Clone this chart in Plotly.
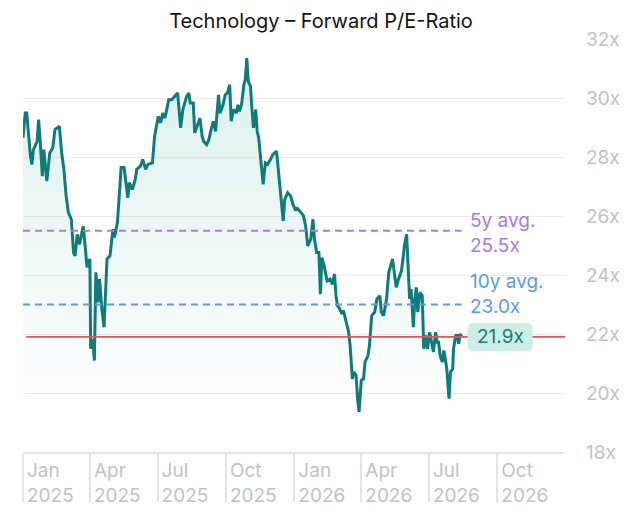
import plotly.graph_objects as go

# forward P/E of the technology sector
dates = [
    "2025-01-01", "2025-01-04", "2025-01-06", "2025-01-08", "2025-01-11", "2025-01-13", "2025-01-15",
    "2025-01-20", "2025-01-22", "2025-01-24", "2025-01-27", "2025-01-29", "2025-02-02", "2025-02-06",
    "2025-02-10", "2025-02-13", "2025-02-19", "2025-02-22", "2025-02-25", "2025-02-28", "2025-03-03",
    "2025-03-07", "2025-03-10", "2025-03-12", "2025-03-15", "2025-03-18", "2025-03-23", "2025-03-26",
    "2025-03-28", "2025-04-01", "2025-04-02", "2025-04-05", "2025-04-07", "2025-04-09", "2025-04-12",
    "2025-04-14", "2025-04-17", "2025-04-20", "2025-04-24", "2025-04-28", "2025-05-02", "2025-05-04",
    "2025-05-08", "2025-05-13", "2025-05-17", "2025-05-22", "2025-05-24", "2025-05-28", "2025-06-01",
    "2025-06-03", "2025-06-08", "2025-06-11", "2025-06-15", "2025-06-18", "2025-06-24", "2025-06-27",
    "2025-06-30", "2025-07-02", "2025-07-05", "2025-07-08", "2025-07-11", "2025-07-16", "2025-07-20",
    "2025-07-25", "2025-07-28", "2025-08-01", "2025-08-04", "2025-08-09", "2025-08-12", "2025-08-14",
    "2025-08-18", "2025-08-20", "2025-08-23", "2025-08-27", "2025-08-30", "2025-09-01", "2025-09-05",
    "2025-09-08", "2025-09-11", "2025-09-14", "2025-09-17", "2025-09-21", "2025-09-23", "2025-09-27",
    "2025-09-30", "2025-10-03", "2025-10-06", "2025-10-08", "2025-10-11", "2025-10-15", "2025-10-17",
    "2025-10-19", "2025-10-22", "2025-10-25", "2025-10-27", "2025-10-29", "2025-10-31", "2025-11-03",
    "2025-11-05", "2025-11-07", "2025-11-10", "2025-11-12", "2025-11-14", "2025-11-16", "2025-11-20",
    "2025-11-23", "2025-11-26", "2025-11-30", "2025-12-03", "2025-12-08", "2025-12-10", "2025-12-13",
    "2025-12-17", "2025-12-19", "2025-12-23", "2025-12-27", "2025-12-30", "2026-01-02", "2026-01-05",
    "2026-01-09", "2026-01-13", "2026-01-16", "2026-01-19", "2026-01-23", "2026-01-26", "2026-01-28",
    "2026-01-31", "2026-02-03", "2026-02-05", "2026-02-07", "2026-02-10", "2026-02-14", "2026-02-18",
    "2026-02-21", "2026-02-24", "2026-02-26", "2026-02-28", "2026-03-03", "2026-03-06", "2026-03-08",
    "2026-03-11", "2026-03-13", "2026-03-15", "2026-03-17", "2026-03-20", "2026-03-22", "2026-03-25",
    "2026-03-27", "2026-03-29", "2026-04-01", "2026-04-04", "2026-04-06", "2026-04-10", "2026-04-12",
    "2026-04-15", "2026-04-19", "2026-04-22", "2026-04-26", "2026-04-28", "2026-05-01", "2026-05-05",
    "2026-05-08", "2026-05-10", "2026-05-13", "2026-05-16", "2026-05-18", "2026-05-21", "2026-05-25",
    "2026-05-27", "2026-05-29", "2026-06-01", "2026-06-02", "2026-06-05", "2026-06-07", "2026-06-10",
    "2026-06-12", "2026-06-14", "2026-06-16", "2026-06-19", "2026-06-22", "2026-06-24", "2026-06-27",
    "2026-06-29", "2026-07-02", "2026-07-05", "2026-07-07", "2026-07-10", "2026-07-12", "2026-07-14",
    "2026-07-16", "2026-07-19", "2026-07-21", "2026-07-23", "2026-07-25", "2026-07-28", "2026-07-30",
    "2026-08-02", "2026-08-03", "2026-08-06", "2026-08-08", "2026-08-10", "2026-08-12", "2026-08-14",
]
pe_values = [
    28.65, 29.49, 29.49, 28.76, 28.03, 27.75, 28.25,
    28.53, 29.27, 28.59, 27.35, 28.25, 27.18, 28.14,
    28.31, 28.93, 29.04, 28.14, 27.58, 26.68, 26.12,
    25.89, 24.76, 24.65, 25.38, 25.04, 25.66, 24.88,
    24.26, 24.54, 21.50, 21.83, 21.10, 24.09, 23.07,
    23.86, 22.85, 22.23, 24.54, 24.65, 25.55, 25.27,
    25.78, 27.64, 27.64, 26.62, 27.13, 26.90, 27.24,
    27.58, 27.69, 27.92, 27.58, 27.75, 27.80, 28.70,
    29.04, 29.38, 29.16, 29.49, 29.32, 29.94, 29.94,
    30.11, 30.17, 28.99, 29.61, 30.05, 30.17, 29.83,
    29.83, 28.82, 29.04, 29.32, 28.70, 28.53, 28.42,
    28.59, 28.93, 29.21, 28.87, 30.11, 29.49, 29.77,
    30.11, 30.17, 30.45, 29.21, 29.61, 29.49, 29.77,
    29.55, 29.77, 30.45, 30.62, 31.35, 30.56, 30.39,
    29.61, 28.99, 29.61, 28.87, 28.65, 28.14, 27.07,
    27.80, 27.75, 27.92, 28.08, 28.20, 27.69, 26.68,
    25.83, 26.56, 26.79, 26.68, 26.40, 26.23, 26.26,
    26.14, 26.02, 25.69, 24.99, 25.21, 25.89, 25.21,
    24.76, 24.76, 23.35, 24.59, 24.31, 23.80, 23.86,
    23.69, 24.03, 23.30, 22.96, 22.85, 22.68, 22.79,
    22.51, 22.23, 22.06, 21.61, 20.48, 20.71, 20.60,
    19.81, 19.36, 20.43, 20.48, 21.05, 21.27, 21.61,
    22.62, 22.74, 23.19, 23.30, 22.74, 22.62, 23.19,
    24.09, 24.26, 24.54, 23.97, 23.58, 23.86, 24.14,
    24.54, 24.99, 25.38, 24.76, 23.19, 23.52, 22.23,
    23.19, 23.58, 22.74, 23.41, 23.30, 21.50, 21.95,
    21.50, 22.06, 21.61, 21.39, 22.06, 21.72, 21.72,
    21.27, 21.05, 21.44, 21.16, 20.82, 19.81, 20.71,
    20.82, 21.50, 21.95, 21.95, 21.67, 22.00, 21.90,
]
avg_5y = 25.5
avg_10y = 23.0
current_pe = 21.9

tick_dates = ["2025-01-01", "2025-04-01", "2025-07-01", "2025-10-01",
              "2026-01-01", "2026-04-01", "2026-07-01", "2026-10-01"]
tick_text = ["Jan<br>2025", "Apr<br>2025", "Jul<br>2025", "Oct<br>2025",
             "Jan<br>2026", "Apr<br>2026", "Jul<br>2026", "Oct<br>2026"]

TEAL = "#107c7a"
PURPLE = "#a57be6"
BLUE = "#5b9be6"
RED = "#e0575b"
GREY = "#c2c2c4"
FONT = "Inter"

fig = go.Figure()

fig.add_trace(go.Scatter(
    x=dates, y=pe_values, mode="lines",
    line=dict(color=TEAL, width=3),
    fill="tozeroy",
    fillgradient=dict(type="vertical", start=19.5, stop=31.4,
                      colorscale=[[0, "rgba(30,170,150,0)"], [1, "rgba(30,170,150,0.16)"]]),
    hoverinfo="x+y", showlegend=False,
))

# current value line, then average lines (only across the data span)
fig.add_shape(type="line", xref="paper", x0=0.006, x1=1, yref="y", y0=current_pe, y1=current_pe,
              line=dict(color=RED, width=1.8))
for val, col in [(avg_5y, PURPLE), (avg_10y, BLUE)]:
    fig.add_shape(type="line", xref="x", x0=dates[0], x1=dates[-1], yref="y", y0=val, y1=val,
                  line=dict(color=col, width=2.2, dash="7px,5px"))

# rounded badge behind the current value
fig.add_shape(type="path", xref="x", yref="y", xsizemode="pixel", ysizemode="pixel",
              xanchor=dates[-1], yanchor=current_pe,
              path="M 12,-14 H 65 Q 71,-14 71,-8 V 8 Q 71,14 65,14 H 12 Q 6,14 6,8 V -8 Q 6,-14 12,-14 Z",
              fillcolor="#cdeee5", line=dict(width=0), layer="above")

fig.add_annotation(x=dates[-1], y=avg_5y, xshift=6, yshift=-2, xanchor="left", yanchor="middle",
                   align="left", text="5y avg.<br>%.1fx" % avg_5y, showarrow=False,
                   font=dict(family=FONT, size=19, color=PURPLE))
fig.add_annotation(x=dates[-1], y=avg_10y, xshift=6, yshift=11, xanchor="left", yanchor="middle",
                   align="left", text="10y avg.<br>%.1fx" % avg_10y, showarrow=False,
                   font=dict(family=FONT, size=19, color=BLUE))
fig.add_annotation(x=dates[-1], y=current_pe, xshift=38.5, xanchor="center", yanchor="middle",
                   text="%.1fx" % current_pe, showarrow=False,
                   font=dict(family=FONT, size=19, color="#1b7a72"))

fig.update_layout(
    width=642, height=519,
    margin=dict(l=23, r=77, t=39, b=65),
    paper_bgcolor="white", plot_bgcolor="white",
    font=dict(family=FONT),
    title=dict(text="Technology – Forward P/E-Ratio", x=0.5, xref="container", xanchor="center",
               y=1 - 20.5 / 519, yanchor="middle", font=dict(family=FONT, size=20, color="#111111")),
    xaxis=dict(
        type="date", range=["2025-01-01", "2026-12-31"],
        tickvals=tick_dates, ticktext=tick_text,
        showgrid=False, zeroline=False,
        showline=True, linecolor="#e3e3e6", linewidth=2,
        ticks="outside", ticklen=48, tickwidth=2, tickcolor="#e3e3e6",
        ticklabelposition="outside right", ticklabelshift=2,
        tickfont=dict(family=FONT, size=19, color=GREY),
    ),
    yaxis=dict(
        side="right", range=[18, 32], tick0=18, dtick=2, ticksuffix="x",
        showgrid=True, gridcolor="#ececee", gridwidth=1, zeroline=False, showline=False,
        ticks="", ticklabelstandoff=20,
        tickfont=dict(family=FONT, size=19, color=GREY),
    ),
)

# drop the browser's default 8px body margin so the figure sits at the page origin
fig.write_html("out.html", config={"displayModeBar": False},
               post_script="document.body.style.margin='0';")
